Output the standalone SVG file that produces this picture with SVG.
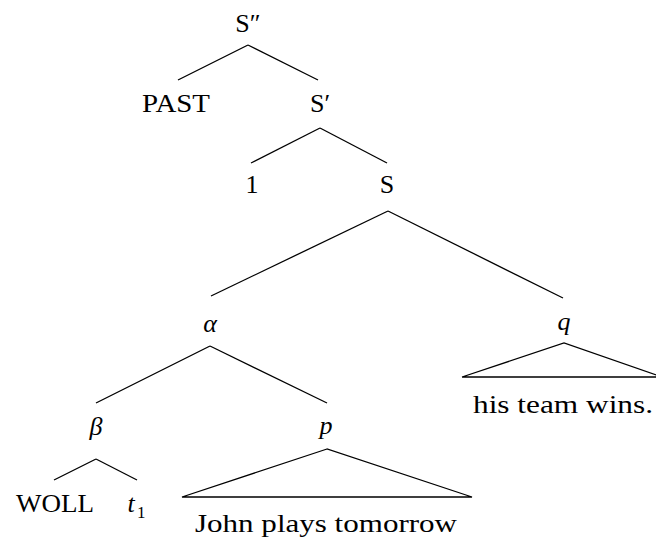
<svg xmlns="http://www.w3.org/2000/svg" width="656" height="543" viewBox="0 0 656 543">
<style>
text{font-family:"Liberation Serif","DejaVu Serif",serif;font-size:26px;fill:#000;text-anchor:middle}
.it{font-style:italic}
.sub{font-size:17px;text-anchor:start}
#edges line,#edges path{stroke:#000;stroke-width:1.3;fill:none}
</style>
<rect width="656" height="543" fill="#fff"/>
<g id="edges">
<line x1="248" y1="45" x2="178" y2="80"/>
<line x1="248" y1="45" x2="318" y2="80"/>
<line x1="320" y1="128" x2="251" y2="163"/>
<line x1="320" y1="128" x2="387" y2="163"/>
<line x1="388" y1="211" x2="211" y2="296"/>
<line x1="388" y1="211" x2="563" y2="298"/>
<line x1="210" y1="346" x2="96" y2="403"/>
<line x1="210" y1="346" x2="327" y2="403"/>
<line x1="96" y1="459" x2="54" y2="480"/>
<line x1="96" y1="459" x2="137" y2="480"/>
<path d="M327 449 L182 497 L472 497 Z"/>
<path d="M462 377 L564 343 L662 377 M462 377 L662 377"/>
</g>
<g id="n-s2"><text x="248" y="32">S″</text></g>
<g id="n-past"><text x="176" y="112" textLength="68" lengthAdjust="spacingAndGlyphs">PAST</text></g>
<g id="n-s1"><text x="320" y="112">S′</text></g>
<g id="n-1"><text x="252" y="193">1</text></g>
<g id="n-s"><text x="387" y="193">S</text></g>
<g id="n-alpha"><text class="it" x="210" y="332">α</text></g>
<g id="n-q"><text class="it" x="564" y="330">q</text></g>
<g id="n-qtext"><text x="563" y="413" textLength="180" lengthAdjust="spacingAndGlyphs">his team wins.</text></g>
<g id="n-beta"><text class="it" x="96" y="435">β</text></g>
<g id="n-p"><text class="it" x="326" y="434">p</text></g>
<g id="n-woll"><text x="55" y="512" textLength="78" lengthAdjust="spacingAndGlyphs">WOLL</text></g>
<g id="n-t1"><text class="it" x="131" y="512">t</text><text class="sub" x="137" y="518">1</text></g>
<g id="n-ptext"><text x="326" y="532" textLength="262" lengthAdjust="spacingAndGlyphs">John plays tomorrow</text></g>
</svg>
